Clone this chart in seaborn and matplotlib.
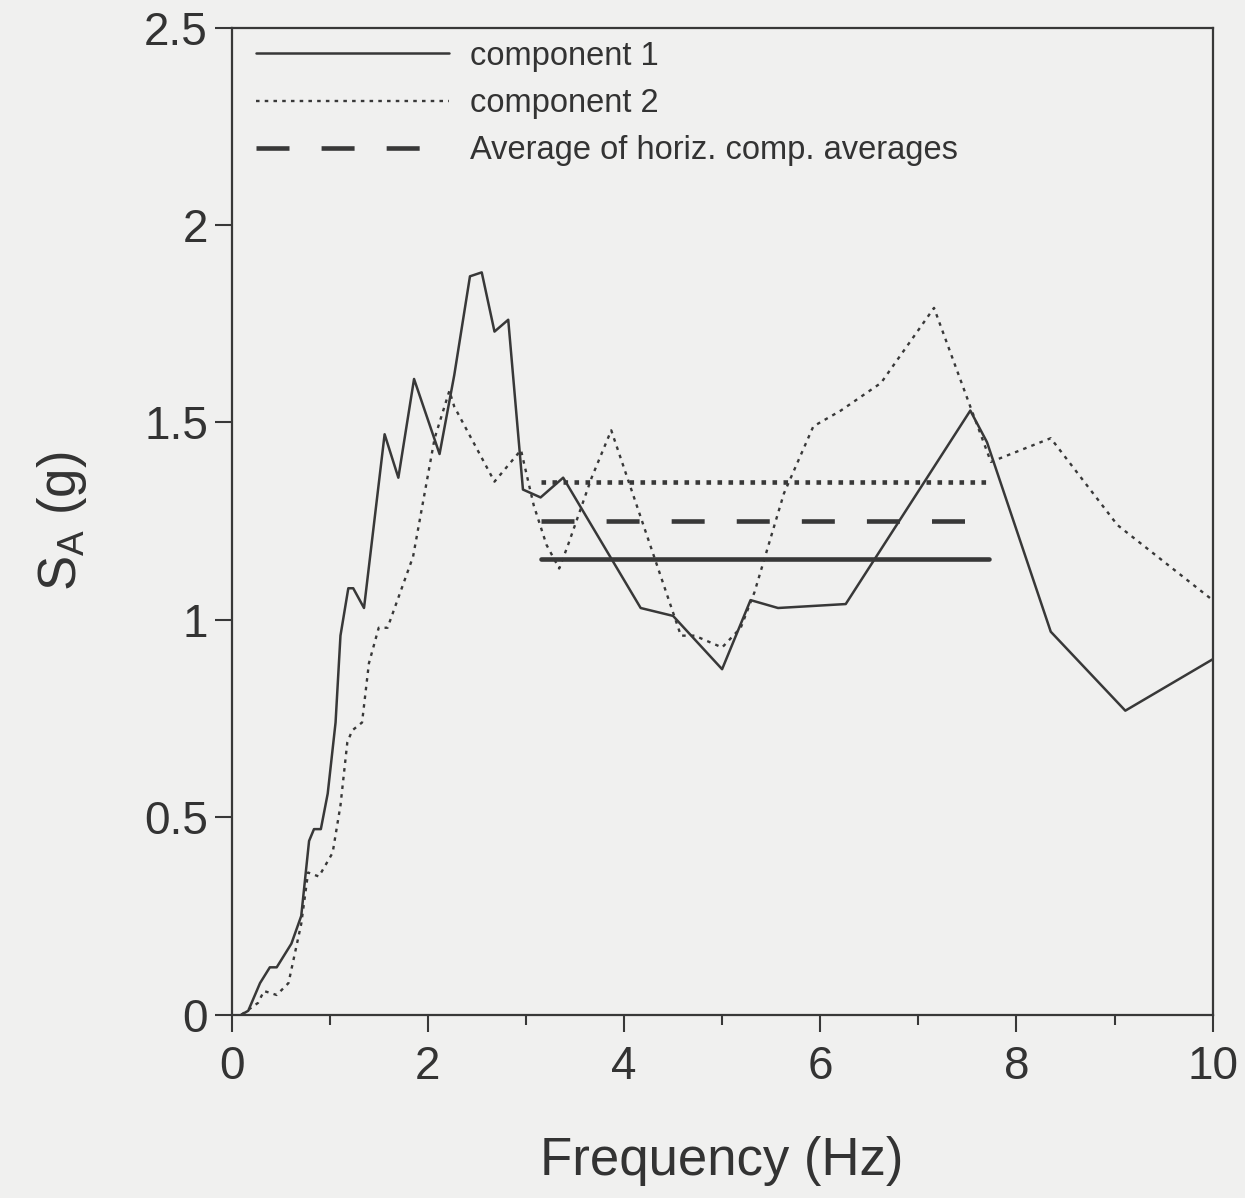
import numpy as np
import pandas as pd
import matplotlib
matplotlib.use("Agg")
import matplotlib.pyplot as plt
import seaborn as sns

# ---- data ----
comp1_freq = [0.10, 0.17, 0.29, 0.39, 0.46, 0.61, 0.71, 0.79, 0.84, 0.91, 0.98, 1.06, 1.11,
              1.19, 1.24, 1.35, 1.56, 1.70, 1.86, 2.12, 2.27, 2.43, 2.55, 2.68, 2.82, 2.97,
              3.15, 3.38, 4.17, 4.50, 5.00, 5.29, 5.57, 6.26, 7.53, 7.70, 8.35, 9.11, 10.0]
comp1_sa = [0.00, 0.01, 0.08, 0.12, 0.12, 0.18, 0.25, 0.44, 0.47, 0.47, 0.56, 0.74, 0.96,
            1.08, 1.08, 1.03, 1.47, 1.36, 1.61, 1.42, 1.62, 1.87, 1.88, 1.73, 1.76, 1.33,
            1.31, 1.36, 1.03, 1.01, 0.875, 1.05, 1.03, 1.04, 1.53, 1.45, 0.97, 0.77, 0.90]

comp2_freq = [0.10, 0.27, 0.33, 0.46, 0.58, 0.71, 0.78, 0.89, 1.03, 1.11, 1.18, 1.23, 1.33,
              1.40, 1.50, 1.59, 1.85, 2.07, 2.22, 2.27, 2.68, 2.95, 3.08, 3.21, 3.34, 3.43,
              3.67, 3.87, 4.58, 4.72, 5.00, 5.19, 5.33, 5.63, 5.93, 6.21, 6.62, 7.16, 7.53,
              7.74, 8.35, 9.03, 10.0]
comp2_sa = [0.00, 0.03, 0.06, 0.05, 0.08, 0.23, 0.36, 0.35, 0.41, 0.53, 0.69, 0.72, 0.74,
            0.89, 0.98, 0.98, 1.16, 1.46, 1.58, 1.54, 1.35, 1.43, 1.29, 1.19, 1.13, 1.19,
            1.36, 1.48, 0.96, 0.96, 0.93, 0.98, 1.07, 1.32, 1.49, 1.53, 1.60, 1.79, 1.54,
            1.40, 1.46, 1.24, 1.05]

avg_range = [3.15, 7.72]
avg_comp1 = 1.155
avg_comp2 = 1.35
avg_all = 1.25

labels = ["component 1", "component 2", "Average of horiz. comp. averages"]
x_ticks = [0, 2, 4, 6, 8, 10]
y_ticks = [0, 0.5, 1, 1.5, 2, 2.5]
y_tick_labels = ["0", "0.5", "1", "1.5", "2", "2.5"]

# ---- figure ----
sns.set_theme(style="ticks")
plt.rcParams["font.family"] = ["Liberation Sans", "DejaVu Sans"]
bg = "#f0f0ef"
ink = "#383838"

fig = plt.figure(figsize=(12.45, 11.98), dpi=100, facecolor=bg)
ax = fig.add_axes([0.186, 0.153, 0.788, 0.824], facecolor=bg)

df1 = pd.DataFrame({"f": comp1_freq, "sa": comp1_sa})
df2 = pd.DataFrame({"f": comp2_freq, "sa": comp2_sa})
da1 = pd.DataFrame({"f": avg_range, "sa": [avg_comp1] * 2})
da2 = pd.DataFrame({"f": avg_range, "sa": [avg_comp2] * 2})
daa = pd.DataFrame({"f": avg_range, "sa": [avg_all] * 2})

sns.lineplot(data=df1, x="f", y="sa", ax=ax, color=ink, lw=1.8, errorbar=None,
             label=labels[0])
sns.lineplot(data=df2, x="f", y="sa", ax=ax, color=ink, lw=1.7, errorbar=None,
             linestyle=(0, (1.5, 2.2)), label=labels[1])
sns.lineplot(data=daa, x="f", y="sa", ax=ax, color=ink, lw=3.3, errorbar=None,
             linestyle=(0, (7.2, 7.0)), label=labels[2])
sns.lineplot(data=da1, x="f", y="sa", ax=ax, color=ink, lw=3.3, errorbar=None,
             label="_nolegend_")
sns.lineplot(data=da2, x="f", y="sa", ax=ax, color=ink, lw=3.3, errorbar=None,
             linestyle=(0, (1.0, 1.4)), label="_nolegend_")

ax.set_xlim(0, 10)
ax.set_ylim(0, 2.5)
ax.set_xticks(x_ticks)
ax.set_xticks([1, 3, 5, 7, 9], minor=True)
ax.set_yticks(y_ticks)
ax.set_yticklabels(y_tick_labels)
ax.tick_params(axis="both", which="major", labelsize=33, length=12, width=1.5,
               color=ink, labelcolor="#333333", direction="out")
ax.tick_params(axis="y", which="major", pad=5)
ax.tick_params(axis="x", which="major", pad=10)
ax.tick_params(axis="x", which="minor", length=7, width=1.5, color=ink)
for s in ax.spines.values():
    s.set_visible(True)
    s.set_color(ink)
    s.set_linewidth(1.6)

ax.set_xlabel("Frequency (Hz)", fontsize=38, color="#333333", labelpad=34)
ax.set_ylabel(r"S$_\mathregular{A}$ (g)", fontsize=38, color="#333333", labelpad=40)

leg = ax.legend(loc="upper left", frameon=False, fontsize=23.5, handlelength=5.9,
                handletextpad=0.65, labelspacing=0.5, borderaxespad=0.0,
                bbox_to_anchor=(0.012, 1.0))
for t in leg.get_texts():
    t.set_color("#333333")

fig.savefig("out.png", dpi=100, facecolor=bg)
